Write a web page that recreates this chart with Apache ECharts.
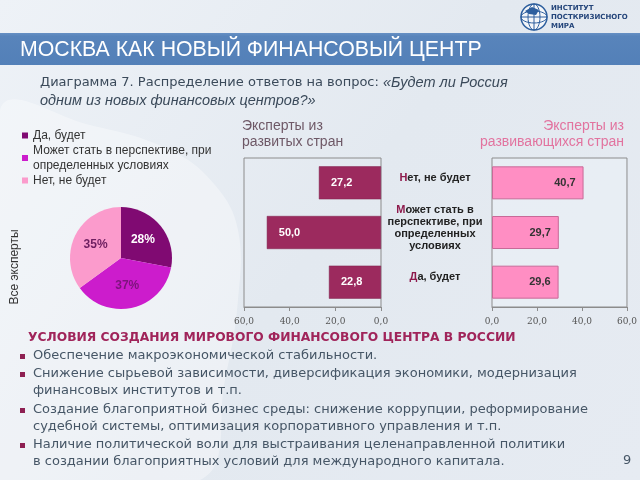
<!DOCTYPE html>
<html><head><meta charset="utf-8">
<script src="https://cdn.jsdelivr.net/npm/echarts@6/dist/echarts.min.js"></script>
<style>html,body{margin:0;padding:0;background:#e6ebf1}#c{width:640px;height:480px}</style>
</head><body><div id="c"></div>
<script>
const categories = ['Да, будет', 'Может стать в\nперспективе, при\nопределенных\nусловиях', 'Нет, не будет'];
const developed = [22.8, 50.0, 27.2];
const developing = [29.6, 29.7, 40.7];
const pieNames = ['Да, будет', 'Может стать в перспективе, при\nопределенных условиях', 'Нет, не будет'];
const pieValues = [28, 37, 35];
const axisMin = 0, axisMax = 60, axisStep = 20;
const bullets = [
  ['Обеспечение макроэкономической стабильности.'],
  ['Снижение сырьевой зависимости, диверсификация экономики, модернизация', 'финансовых институтов и т.п.'],
  ['Создание благоприятной бизнес среды: снижение коррупции, реформирование', 'судебной системы, оптимизация корпоративного управления и т.п.'],
  ['Наличие политической воли для выстраивания целенаправленной политики', 'в создании благоприятных условий для международного капитала.']
];

const fmt = v => Number(v).toFixed(1).replace('.', ',');
const catFmt = v => v.split('\n').map((l, i) => i === 0 ? '{f|' + l[0] + '}{t|' + l.slice(1) + '}' : '{t|' + l + '}').join('\n');
const SANS = 'DejaVu Sans';
const ARIAL = 'Liberation Sans';

const graphics = [];
// background
graphics.push({type:'rect', z:-10, shape:{x:0,y:0,width:640,height:480}, style:{fill:{type:'linear',x:0,y:0,x2:1,y2:1,colorStops:[{offset:0,color:'#eef2f7'},{offset:0.5,color:'#e3e9f0'},{offset:1,color:'#e6ebf2'}]}}});
graphics.push({type:'polygon', z:-9, shape:{points:[[0,110],[90,125],[170,150],[215,185],[238,230],[238,300],[225,380],[200,480],[0,480]], smooth:0.4}, style:{fill:'rgba(255,255,255,0.35)'}});
// header band
graphics.push({type:'rect', shape:{x:0,y:33,width:640,height:32}, style:{fill:{type:'linear',x:0,y:0,x2:0,y2:1,colorStops:[{offset:0,color:'#6690c4'},{offset:0.1,color:'#5884bb'},{offset:1,color:'#5380b8'}]}}});
graphics.push({type:'text', style:{text:'МОСКВА КАК НОВЫЙ ФИНАНСОВЫЙ ЦЕНТР', x:20, y:50, fill:'#ffffff', font:'21.3px "Liberation Sans"', textVerticalAlign:'middle'}});
// logo
graphics.push({type:'circle', shape:{cx:534,cy:17,r:13}, style:{fill:'rgba(255,255,255,0.6)', stroke:'#2e5f9e', lineWidth:1.5}});
graphics.push({type:'line', shape:{x1:521,y1:17,x2:547,y2:17}, style:{stroke:'#2e5f9e', lineWidth:1}});
graphics.push({type:'line', shape:{x1:534,y1:4,x2:534,y2:30}, style:{stroke:'#2e5f9e', lineWidth:1}});
graphics.push({type:'ellipse', shape:{cx:534,cy:17,rx:6,ry:13}, style:{fill:'none', stroke:'#2e5f9e', lineWidth:1}});
graphics.push({type:'ellipse', shape:{cx:534,cy:17,rx:13,ry:6}, style:{fill:'none', stroke:'#2e5f9e', lineWidth:1}});
graphics.push({type:'polygon', shape:{points:[[525,11],[532,7],[539,10],[536,15],[529,14]]}, style:{fill:'#2e5f9e'}});
['ИНСТИТУТ','ПОСТКРИЗИСНОГО','МИРА'].forEach((t,i)=>graphics.push({type:'text', style:{text:t, x:551, y:8+i*9, fill:'#24457a', font:'bold 7px "DejaVu Sans"', textVerticalAlign:'middle'}}));
// subtitle
graphics.push({type:'text', style:{text:'Диаграмма 7. Распределение ответов на вопрос: {i|«Будет ли Россия}', x:40, y:83, fill:'#3b4a5a', fontSize:13, fontFamily:SANS, textVerticalAlign:'middle', rich:{i:{fontStyle:'italic', fontSize:14.5, fontFamily:ARIAL, fill:'#3b4a5a'}}}});
graphics.push({type:'text', style:{text:'одним из новых финансовых центров?»', x:40, y:101, fill:'#3b4a5a', font:'italic 14.5px "Liberation Sans"', textVerticalAlign:'middle'}});
// chart headers
graphics.push({type:'text', style:{text:'Эксперты из\nразвитых стран', x:242, y:134, fill:'#6e5866', font:'14px "Liberation Sans"', lineHeight:16, textVerticalAlign:'middle'}});
graphics.push({type:'text', style:{text:'Эксперты из\nразвивающихся стран', x:624, y:134, fill:'#e2739f', font:'14px "Liberation Sans"', lineHeight:16, textAlign:'right', textVerticalAlign:'middle'}});
graphics.push({type:'text', rotation:Math.PI/2, x:15, y:267, style:{text:'Все эксперты', x:0, y:0, fill:'#333', font:'12px "Liberation Sans"', textAlign:'center', textVerticalAlign:'middle'}});
// bottom text
graphics.push({type:'text', style:{text:'УСЛОВИЯ СОЗДАНИЯ МИРОВОГО ФИНАНСОВОГО ЦЕНТРА В РОССИИ', x:28, y:338, fill:'#a0245a', font:'bold 12.3px "DejaVu Sans"', textVerticalAlign:'middle'}});
const lineYs = [[356],[374,391],[410,427],[445,462]];
bullets.forEach((b,bi)=>{
  graphics.push({type:'rect', shape:{x:20,y:lineYs[bi][0]-2,width:5,height:5}, style:{fill:'#8e2052'}});
  b.forEach((t,li)=>graphics.push({type:'text', style:{text:t, x:33, y:lineYs[bi][li], fill:'#465666', font:'13px "DejaVu Sans"', textVerticalAlign:'middle'}}));
});
graphics.push({type:'text', style:{text:'9', x:623, y:461, fill:'#465666', font:'13px "DejaVu Sans"', textVerticalAlign:'middle'}});

const xAxisCommon = {
  type:'value', min:axisMin, max:axisMax, interval:axisStep,
  axisLine:{show:true, lineStyle:{color:'#8c8c8c'}},
  axisTick:{show:true, length:4, lineStyle:{color:'#8c8c8c'}},
  splitLine:{show:false},
  axisLabel:{formatter:fmt, fontSize:9, color:'#555', fontFamily:'DejaVu Serif', margin:10}
};

const option = {
  animation:false,
  graphic: graphics,
  legend:{
    data:pieNames, orient:'vertical', left:22, top:128, padding:0, itemGap:0,
    itemWidth:6, itemHeight:6, icon:'rect', selectedMode:false,
    textStyle:{fontSize:12, color:'#333', lineHeight:15, fontFamily:ARIAL}
  },
  grid:[
    {left:244, width:137, top:158, height:149, show:true, borderColor:'#8c8c8c', borderWidth:1, backgroundColor:'transparent'},
    {left:492, width:135, top:158, height:149, show:true, borderColor:'#8c8c8c', borderWidth:1, backgroundColor:'rgba(235,241,248,0.5)'}
  ],
  xAxis:[
    Object.assign({}, xAxisCommon, {gridIndex:0, inverse:true}),
    Object.assign({}, xAxisCommon, {gridIndex:1})
  ],
  yAxis:[
    {type:'category', gridIndex:0, data:categories, axisLine:{show:false}, axisTick:{show:false}, axisLabel:{show:false}},
    {type:'category', gridIndex:1, data:categories, axisLine:{show:false}, axisTick:{show:false},
     axisLabel:{formatter:catFmt, align:'center', margin:57, padding:[0,0,10,0],
       rich:{f:{color:'#8e1a4c', fontWeight:'bold', fontSize:11, fontFamily:ARIAL, lineHeight:12},
             t:{color:'#222', fontWeight:'bold', fontSize:11, fontFamily:ARIAL, lineHeight:12}}}}
  ],
  series:[
    {type:'bar', xAxisIndex:0, yAxisIndex:0, data:developed, barWidth:33,
     itemStyle:{color:'#9c2a5e', borderColor:'#7d1f4a', borderWidth:0.5},
     label:{show:true, position:'insideLeft', distance:12, formatter:p=>fmt(p.value), color:'#fff', fontWeight:'bold', fontSize:11, fontFamily:ARIAL}},
    {type:'bar', xAxisIndex:1, yAxisIndex:1, data:developing, barWidth:33,
     itemStyle:{color:'#ff8ec3', borderColor:'#c86a98', borderWidth:1},
     label:{show:true, position:'insideRight', distance:8, formatter:p=>fmt(p.value), color:'#333', fontWeight:'bold', fontSize:11, fontFamily:ARIAL}},
    {type:'pie', center:[121,258], radius:51, startAngle:90, clockwise:true,
     label:{show:true, position:'inner', formatter:'{c}%', fontSize:12, fontWeight:'bold', fontFamily:ARIAL},
     labelLine:{show:false},
     data:pieNames.map((n,i)=>({name:n, value:pieValues[i],
       itemStyle:{color:['#800a72','#cc1ccc','#fb9bcc'][i]},
       label:{color:['#ffffff','#7d147d','#6e1f60'][i]}}))}
  ]
};
const chart = echarts.init(document.getElementById('c'), null, {renderer:'canvas'});
chart.setOption(option);
</script></body></html>
